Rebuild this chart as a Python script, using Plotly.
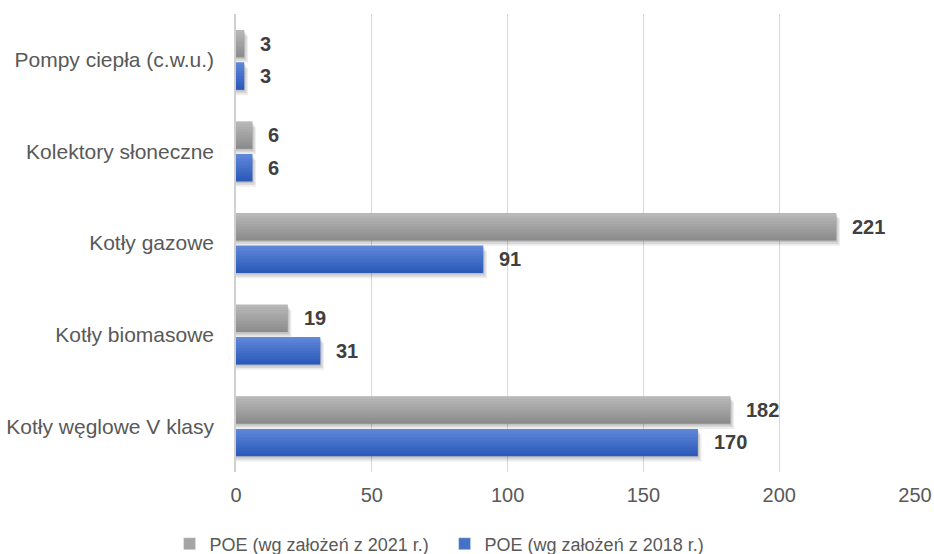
import plotly.graph_objects as go

# Categories (top to bottom) and the two scenario series
categories = [
    "Pompy ciepła (c.w.u.)",
    "Kolektory słoneczne",
    "Kotły gazowe",
    "Kotły biomasowe",
    "Kotły węglowe V klasy",
]
series_names = ["POE (wg założeń z 2021 r.)", "POE (wg założeń z 2018 r.)"]
values_2021 = [3, 6, 221, 19, 182]
values_2018 = [3, 6, 91, 31, 170]
x_ticks = [0, 50, 100, 150, 200, 250]

positions = list(range(len(categories)))

BAR_W = 0.295
series = [
    # name, values, offset, top colour, bottom colour, legend colour
    (series_names[0], values_2021, -0.325, (184, 184, 184), (140, 140, 140), "#a5a5a5"),
    (series_names[1], values_2018, 0.030, (95, 135, 217), (44, 90, 186), "#4472c4"),
]

N_SLICES = 10


def mix(c1, c2, t):
    return "rgb(%d,%d,%d)" % tuple(round(a + (b - a) * t) for a, b in zip(c1, c2))


fig = go.Figure()

# soft drop shadows underneath each bar
for name, vals, off, top, bot, leg in series:
    for dx, dy, alpha in [(1.4, 0.060, 0.07), (0.9, 0.040, 0.09), (0.4, 0.020, 0.10)]:
        fig.add_trace(go.Bar(
            y=positions, x=[v + dx for v in vals], orientation="h",
            offset=off + dy, width=BAR_W,
            marker=dict(color=f"rgba(0,0,0,{alpha})", line=dict(width=0)),
            showlegend=False, hoverinfo="skip",
        ))

# bars drawn as thin horizontal bands for a top-to-bottom gradient
for name, vals, off, top, bot, leg in series:
    fig.add_trace(go.Bar(
        y=positions, x=vals, orientation="h",
        offset=off, width=BAR_W,
        marker=dict(color=mix(top, bot, 0.5), line=dict(width=0)),
        name=name, showlegend=False, hoverinfo="skip",
    ))
    step = BAR_W / N_SLICES
    for i in range(N_SLICES):
        fig.add_trace(go.Bar(
            y=positions, x=vals, orientation="h",
            offset=off + i * step, width=step * 1.08,
            marker=dict(color=mix(top, bot, i / (N_SLICES - 1)), line=dict(width=0)),
            showlegend=False, hoverinfo="skip",
        ))

# legend entries
for name, vals, off, top, bot, leg in series:
    fig.add_trace(go.Bar(
        y=[None], x=[None], orientation="h", name=name,
        marker=dict(color=leg), showlegend=True,
    ))

# value labels at the end of each bar
for name, vals, off, top, bot, leg in series:
    for p, v in zip(positions, vals):
        fig.add_annotation(
            x=v, y=p + off + BAR_W / 2, text=f"<b>{v}</b>",
            xanchor="left", yanchor="middle", xshift=14, showarrow=False,
            font=dict(family="Liberation Sans, Arial", size=20, color="#404040"),
        )

fig.update_layout(
    width=934, height=554,
    margin=dict(l=236, r=19, t=14, b=82, autoexpand=False),
    paper_bgcolor="white", plot_bgcolor="white",
    barmode="overlay",
    font=dict(family="Liberation Sans, Arial", size=20, color="#595959"),
    showlegend=True,
    legend=dict(
        orientation="h", xref="container", yref="container",
        x=0.476, xanchor="center", y=0.018, yanchor="middle",
        font=dict(size=18, color="#595959"),
        itemwidth=30, traceorder="normal", entrywidth=230,
    ),
    xaxis=dict(
        range=[0, 250], tickvals=x_ticks, ticktext=[str(t) for t in x_ticks],
        showgrid=True, gridcolor="#d9d9d9", gridwidth=1,
        zeroline=False, showline=False, ticks="", automargin=False,
        ticklabelstandoff=9,
        tickfont=dict(size=20, color="#595959"),
    ),
    yaxis=dict(
        range=[4.5, -0.5], tickvals=positions, ticktext=categories,
        showgrid=False, zeroline=False, automargin=False,
        showline=True, linecolor="#d0d0d0", linewidth=1.5,
        ticks="", ticklabelstandoff=16,
        tickfont=dict(size=21, color="#595959"),
    ),
)

fig.write_html("out.html")
